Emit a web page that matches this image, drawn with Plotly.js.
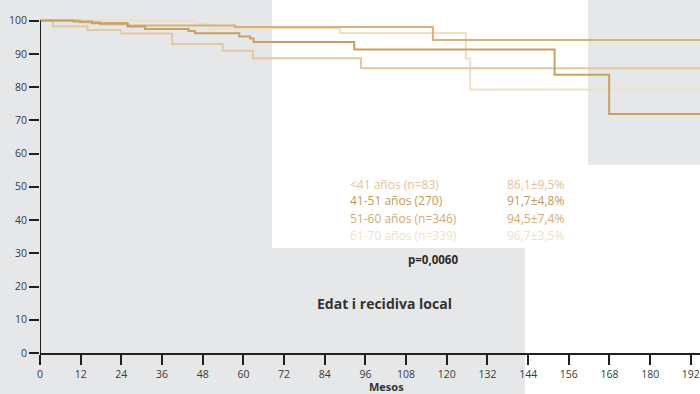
<!DOCTYPE html>
<html>
<head>
<meta charset="utf-8">
<script src="https://cdn.plot.ly/plotly-3.0.1.min.js"></script>
<style>html,body{margin:0;padding:0;background:#fff;}#chart{width:700px;height:394px;}</style>
</head>
<body>
<div id="chart"></div>
<script>
// Kaplan-Meier step data (months, % free of local recurrence)
const monthsLt41 = [0, 3.8, 14, 23.8, 39, 53.9, 62.8, 94.7, 195];
const survLt41   = [100, 98.3, 97.2, 96.1, 93.0, 90.9, 88.7, 85.7, 85.7];

const months41_51 = [0, 9.8, 15.3, 25.8, 31, 43.8, 45.7, 58.8, 62, 63, 92.7, 151.8, 167.9, 195];
const surv41_51   = [100, 99.7, 99.2, 98.2, 97.5, 96.9, 96.2, 95.2, 94.6, 93.6, 91.3, 83.7, 71.9, 71.9];

const months51_60 = [0, 11.8, 17.7, 26, 57.5, 115.9, 195];
const surv51_60   = [100, 99.5, 98.9, 98.5, 98.1, 94.2, 94.2];

const months61_70 = [0, 45.7, 50.2, 88.5, 125.6, 126.9, 195];
const surv61_70   = [100, 99.0, 97.6, 96.3, 88.6, 79.3, 79.3];

const legendLabels = ['<41 años (n=83)', '41-51 años (270)', '51-60 años (n=346)', '61-70 años (n=339)'];
const legendValues = ['86,1±9,5%', '91,7±4,8%', '94,5±7,4%', '96,7±3,5%'];
const xTicks = [0, 12, 24, 36, 48, 60, 72, 84, 96, 108, 120, 132, 144, 156, 168, 180, 192];
const yTicks = [0, 10, 20, 30, 40, 50, 60, 70, 80, 90, 100];

const colors = ['#e3c8a0', '#c9a063', '#d5b17b', '#eedfc8'];
const textColors = ['#e0c49a', '#bf9a5c', '#d0ab74', '#eee0cb'];

const series = [
  [monthsLt41, survLt41],
  [months41_51, surv41_51],
  [months51_60, surv51_60],
  [months61_70, surv61_70]
];
const order = [3, 0, 2, 1];
const traces = order.map(i => ({
  x: series[i][0], y: series[i][1], type: 'scatter', mode: 'lines',
  line: {shape: 'hv', color: colors[i], width: 2},
  name: legendLabels[i], showlegend: false, hoverinfo: 'skip'
}));

const PX = 660, PY = 353;
const px = v => (v - 40) / PX;
const py = v => (353 - v) / PY;
const gray = '#e6e7e9';
const shapes = [
  {type:'rect', xref:'paper', yref:'paper', x0:px(0), x1:px(272), y0:py(394), y1:py(0), fillcolor:gray, line:{width:0}, layer:'below'},
  {type:'rect', xref:'paper', yref:'paper', x0:px(271), x1:px(525), y0:py(394), y1:py(248), fillcolor:gray, line:{width:0}, layer:'below'},
  {type:'rect', xref:'paper', yref:'paper', x0:px(588), x1:px(700), y0:py(165), y1:py(0), fillcolor:gray, line:{width:0}, layer:'below'},
  {type:'line', xref:'x', yref:'y', x0:0, x1:0, y0:0, y1:100, line:{color:'#231f20', width:2}}
];

const font = '"Open Sans", "DejaVu Sans", sans-serif';
const annotations = [];
legendLabels.forEach((t, i) => {
  annotations.push({xref:'paper', yref:'paper', x:px(348), y:py(184 + 17*i), text:t, showarrow:false, xanchor:'left', yanchor:'middle', font:{family:font, size:12, color:textColors[i]}});
  annotations.push({xref:'paper', yref:'paper', x:px(505), y:py(184 + 17*i), text:legendValues[i], showarrow:false, xanchor:'left', yanchor:'middle', font:{family:font, size:12, color:textColors[i]}});
});
annotations.push({xref:'paper', yref:'paper', x:px(433), y:py(259), text:'<b>p=0,0060</b>', showarrow:false, xanchor:'center', yanchor:'middle', font:{family:font, size:11.5, color:'#2b2b2b'}});
annotations.push({xref:'paper', yref:'paper', x:px(384), y:py(303), text:'<b>Edat i recidiva local</b>', showarrow:false, xanchor:'center', yanchor:'middle', font:{family:font, size:14, color:'#333'}});
annotations.push({xref:'paper', yref:'paper', x:px(386), y:py(386), text:'<b>Mesos</b>', showarrow:false, xanchor:'center', yanchor:'middle', font:{family:font, size:11, color:'#333'}});

const layout = {
  width: 700, height: 394,
  margin: {l: 40, r: 0, t: 0, b: 41, pad: 0},
  paper_bgcolor: '#ffffff', plot_bgcolor: 'rgba(0,0,0,0)',
  showlegend: false,
  xaxis: {range: [0, 194.7], tickvals: xTicks, ticktext: xTicks.map(String), ticks: 'outside', ticklen: 10, tickwidth: 2, tickcolor: '#231f20',
          showline: true, linecolor: '#231f20', linewidth: 2, showgrid: false, zeroline: false,
          tickfont: {family: font, size: 10.5, color: '#3a3a3a'}, fixedrange: true},
  yaxis: {range: [0, 106.2], tickvals: yTicks, ticktext: yTicks.map(String), ticks: 'outside', ticklen: 10, tickwidth: 2, tickcolor: '#231f20',
          showline: false, showgrid: false, zeroline: false,
          tickfont: {family: font, size: 10.5, color: '#3a3a3a'}, fixedrange: true},
  shapes: shapes,
  annotations: annotations
};
Plotly.newPlot('chart', traces, layout, {displayModeBar: false, staticPlot: true});
</script>
</body>
</html>
